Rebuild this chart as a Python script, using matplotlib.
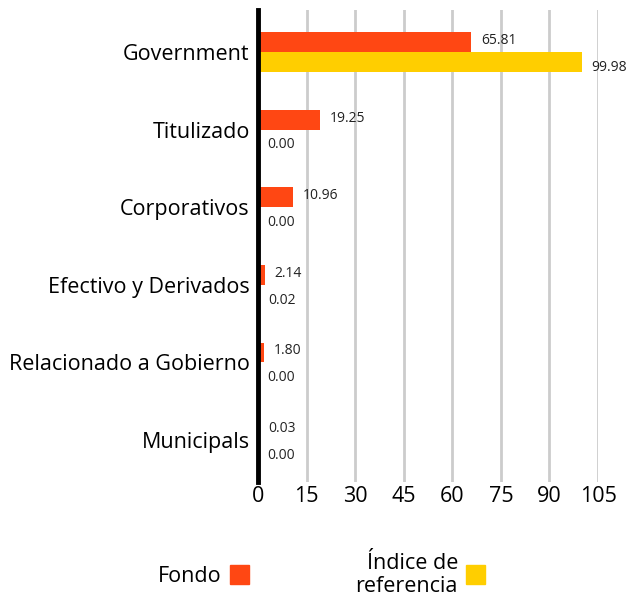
import matplotlib
matplotlib.use("Agg")
import matplotlib.pyplot as plt
import numpy as np
from matplotlib.patches import Rectangle

plt.rcParams['font.family'] = ['Open Sans', 'DejaVu Sans']

categories = ["Government", "Titulizado", "Corporativos", "Efectivo y Derivados",
              "Relacionado a Gobierno", "Municipals"]
fondo = [65.81, 19.25, 10.96, 2.14, 1.80, 0.03]
indice = [99.98, 0.00, 0.00, 0.02, 0.00, 0.00]
xticks = [0, 15, 30, 45, 60, 75, 90, 105]
series_names = ["Fondo", "Índice de\nreferencia"]
colors = ["#FF4713", "#FFCE00"]

fig = plt.figure(figsize=(6.28, 6.0), dpi=100)
ax = fig.add_axes([258/628, 1-482/600, 340/628, 472/600])

y = np.arange(len(categories))
h = 0.256
ax.barh(y - h/2, fondo, height=h, color=colors[0], zorder=3)
ax.barh(y + h/2, indice, height=h, color=colors[1], zorder=3)

for yi, v in zip(y, fondo):
    ax.text(v + 3, yi - h/2 - 0.02, f"{v:.2f}", va='center', ha='left', fontsize=10, color='#222222')
for yi, v in zip(y, indice):
    ax.text(v + 3, yi + h/2 + 0.07, f"{v:.2f}", va='center', ha='left', fontsize=10, color='#222222')

ax.set_xlim(0, 105)
ax.set_ylim(len(categories) - 0.46, -0.54)
ax.set_xticks(xticks)
ax.set_xticklabels([str(t) for t in xticks], fontsize=15.5)
ax.set_yticks(y)
ax.set_yticklabels(categories, fontsize=15.5)
ax.tick_params(axis='both', length=0, pad=6)
ax.tick_params(axis='x', pad=3)
for s in ['top', 'right', 'bottom']:
    ax.spines[s].set_visible(False)
ax.spines['left'].set_linewidth(3.5)
ax.spines['left'].set_color('black')
ax.spines['left'].set_zorder(5)
ax.xaxis.grid(True, color='#cccccc', linewidth=2, zorder=0)
ax.set_axisbelow(True)

# legend
fig.text(222/628, 1-577/600, series_names[0], ha='right', va='center', fontsize=15.5)
fig.patches.append(Rectangle((230/628, 1-584/600), 19/628, 19/600, color=colors[0], transform=fig.transFigure, figure=fig))
fig.text(458/628, 1-575/600, series_names[1], ha='right', va='center', fontsize=15.5, linespacing=1.1)
fig.patches.append(Rectangle((466/628, 1-584/600), 19/628, 19/600, color=colors[1], transform=fig.transFigure, figure=fig))

fig.savefig("out.png", dpi=100)
